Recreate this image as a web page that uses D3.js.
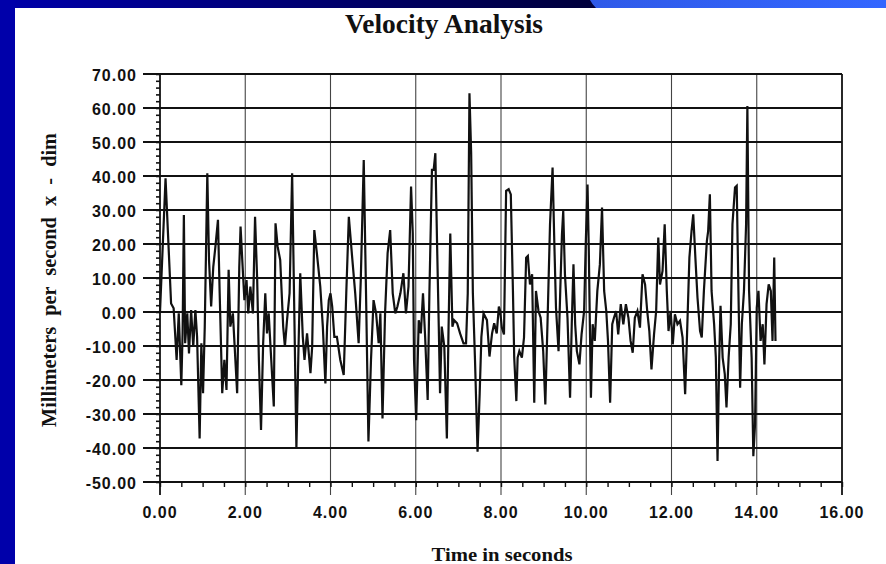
<!DOCTYPE html>
<html>
<head>
<meta charset="utf-8">
<script src="https://cdnjs.cloudflare.com/ajax/libs/d3/7.8.5/d3.min.js"></script>
<style>
  body { margin: 0; background: #ffffff; }
  .tick-label { font-family: "Liberation Sans", Arial, sans-serif; font-weight: bold; font-size: 16px; letter-spacing: 1px; fill: #111; }
  .serif-title { font-family: "Liberation Serif", "Times New Roman", serif; font-weight: bold; fill: #111; }
</style>
</head>
<body>
<div id="chart"></div>
<script>
// values
var times = [
  0.00, 0.13, 0.26, 0.32, 0.39, 0.44, 0.50, 0.53, 0.56, 0.59, 0.64, 0.68, 0.73, 0.78, 0.83, 0.87, 0.93, 0.97, 1.01, 1.05,
  1.11, 1.15, 1.20, 1.25, 1.30, 1.36, 1.40, 1.46, 1.51, 1.56, 1.61, 1.65, 1.71, 1.81, 1.86, 1.89, 1.93, 1.98, 2.03, 2.07,
  2.12, 2.18, 2.23, 2.28, 2.32, 2.37, 2.42, 2.47, 2.51, 2.55, 2.61, 2.67, 2.71, 2.76, 2.82, 2.89, 2.93, 2.98, 3.04, 3.10,
  3.15, 3.20, 3.25, 3.29, 3.35, 3.39, 3.45, 3.53, 3.57, 3.62, 3.68, 3.76, 3.82, 3.88, 3.92, 3.96, 4.00, 4.04, 4.09, 4.15,
  4.23, 4.31, 4.37, 4.43, 4.50, 4.58, 4.66, 4.71, 4.78, 4.84, 4.89, 4.95, 5.01, 5.07, 5.13, 5.17, 5.22, 5.28, 5.34, 5.40,
  5.46, 5.52, 5.57, 5.64, 5.71, 5.77, 5.83, 5.89, 5.93, 5.96, 6.01, 6.07, 6.12, 6.17, 6.22, 6.28, 6.32, 6.38, 6.42, 6.46,
  6.50, 6.54, 6.57, 6.61, 6.67, 6.73, 6.77, 6.81, 6.86, 6.90, 6.97, 7.04, 7.12, 7.18, 7.22, 7.26, 7.30, 7.34, 7.39, 7.45,
  7.50, 7.54, 7.59, 7.67, 7.73, 7.79, 7.84, 7.90, 7.95,
  7.98, 8.02, 8.07, 8.12, 8.18, 8.23, 8.28, 8.31, 8.36, 8.39, 8.43, 8.49, 8.54, 8.59, 8.63, 8.68, 8.73, 8.78, 8.82, 8.88,
  8.93, 8.99, 9.04, 9.09, 9.15, 9.21, 9.25, 9.29, 9.35, 9.39, 9.43, 9.46, 9.50, 9.56, 9.62, 9.66, 9.70, 9.74, 9.78, 9.84,
  9.89, 9.95, 9.99, 10.03, 10.06, 10.11, 10.15, 10.20, 10.26, 10.32, 10.37, 10.42, 10.47, 10.51, 10.56, 10.61, 10.65, 10.70, 10.75, 10.81,
  10.87, 10.93, 10.99, 11.04, 11.09, 11.14, 11.20, 11.26, 11.32, 11.38, 11.43, 11.48, 11.53, 11.59, 11.64, 11.69, 11.73, 11.79, 11.84, 11.89,
  11.93, 11.98, 12.03, 12.08, 12.14, 12.20, 12.26, 12.32, 12.36, 12.42, 12.47, 12.51, 12.56, 12.61, 12.67, 12.71, 12.76, 12.83, 12.86, 12.90,
  12.94, 13.00, 13.04, 13.08, 13.12, 13.15, 13.20, 13.25, 13.29, 13.34, 13.39, 13.43, 13.49, 13.53, 13.57, 13.61, 13.65, 13.70, 13.75, 13.78,
  13.82, 13.88, 13.92, 13.96, 14.00, 14.04, 14.09, 14.14, 14.18, 14.23, 14.28, 14.33, 14.37, 14.41, 14.44
];
var velocities = [
  0.0, 39.3, 2.5, 1.1, -14.1, -0.4, -21.5, -6.3, 28.5, -9.2, -0.4, -12.2, 0.6, -10.2, 0.6, -7.3, -37.2, -9.2, -23.9, -4.3,
  40.8, 15.3, 1.6, 13.3, 19.2, 27.1, 5.5, -23.9, -14.1, -22.9, 12.4, -4.3, -0.4, -23.9, 13.3, 25.1, 15.3, 3.5, 9.4, -0.4,
  7.5, -0.4, 28.0, 9.4, -14.1, -34.7, -9.2, 5.5, -6.3, -0.4, -14.1, -27.8, 26.1, 19.2, 15.3, -4.3, -10.2, -2.4, 5.5, 40.8,
  0.6, -40.1, -10.2, 11.4, -7.3, -14.1, -6.3, -18.0, -10.2, 24.1, 17.3, 7.5, -4.3, -21.0, -4.3, 3.5, 5.5, 1.6, -7.3, -7.3,
  -14.1, -18.5, 5.5, 28.0, 17.3, 5.5, -9.2, 9.4, 44.7, 0.6, -38.1, -14.1, 3.5, -0.4, -9.2, -0.4, -31.3, -0.4, 17.3, 24.1,
  5.5, -0.4, 1.6, 5.5, 11.4, -0.4, 7.5, 36.9, 23.1, -14.1, -31.8, -2.4, -6.3, 5.5, -7.3, -25.9, 5.5, 41.8, 41.8, 46.7,
  20.2, -4.3, -23.9, -4.3, -10.2, -37.2, -4.3, 23.1, -4.3, -2.4, -3.3, -6.3, -9.2, -9.2, 5.5, 64.3, 46.7, 5.5, -14.1, -41.1,
  -23.9, -7.3, -0.4, -2.4, -13.1, -6.3, -3.3, -6.3, 1.6,
  0.3, -4.6, -6.6, 35.6, 36.1, 34.6, 6.2, -13.4, -26.2, -13.4, -11.5, -13.4, -7.5, 16.0, 16.5, 8.1, 11.1, -26.7, 6.2, 0.3,
  -1.7, -11.5, -27.2, -3.6, 25.8, 42.5, 20.9, 1.3, -11.5, 6.2, 22.8, 29.7, 11.1, -1.7, -25.2, -3.6, 14.0, -3.6, -11.5, -15.4,
  -6.6, 0.3, 20.9, 37.5, 17.9, -25.2, -3.6, -8.5, 6.2, 14.0, 30.7, 6.2, 0.3, -8.5, -26.7, -3.6, -1.7, 0.3, -6.6, 2.3,
  -3.6, 2.3, -1.7, -8.5, -12.0, -1.7, 0.3, -4.6, 11.1, 8.1, 0.3, -5.6, -16.9, -6.6, 0.3, 21.9, 8.1, 12.1, 25.8, 6.2,
  -5.6, 0.3, -9.5, -0.7, -3.6, -2.6, -7.5, -24.2, -8.5, 16.0, 23.8, 28.7, 16.0, 4.2, -5.6, -7.5, 6.2, 20.9, 23.8, 34.6,
  6.2, -3.6, -13.4, -43.8, -13.4, 1.8, -13.4, -18.3, -28.1, -13.4, -3.6, 25.8, 36.6, 37.1, 6.2, -22.3, -3.6, 6.2, 25.8, 60.6,
  6.2, -13.4, -42.4, -33.0, 1.3, 6.2, -8.5, -3.6, -15.4, 2.3, 8.1, 6.2, -8.5, 16.0, -8.5
];
var xTicks = [0, 2, 4, 6, 8, 10, 12, 14, 16];
var yTicks = [70, 60, 50, 40, 30, 20, 10, 0, -10, -20, -30, -40, -50];

var svgWidth = 886;
var svgHeight = 564;

var svg = d3.select("#chart")
    .append("svg")
    .attr("width", svgWidth)
    .attr("height", svgHeight);

// slide frame (blue bars)
var defs = svg.append("defs");
var topGrad = defs.append("linearGradient").attr("id", "topGrad");
topGrad.append("stop").attr("offset", "0%").attr("stop-color", "#0000aa");
topGrad.append("stop").attr("offset", "100%").attr("stop-color", "#00003a");
var rightGrad = defs.append("linearGradient").attr("id", "rightGrad");
rightGrad.append("stop").attr("offset", "0%").attr("stop-color", "#2f5ae8");
rightGrad.append("stop").attr("offset", "100%").attr("stop-color", "#3366ff");

svg.append("rect").attr("x", 0).attr("y", 0).attr("width", svgWidth).attr("height", svgHeight).attr("fill", "#ffffff");
svg.append("rect").attr("x", 0).attr("y", 0).attr("width", 600).attr("height", 8).attr("fill", "url(#topGrad)");
svg.append("path")
    .attr("d", "M590,0 L886,0 L886,8 L596,8 Q592,4 590,0 Z")
    .attr("fill", "url(#rightGrad)");
svg.append("rect").attr("x", 0).attr("y", 0).attr("width", 15).attr("height", svgHeight).attr("fill", "#0000aa");

// scales
var xScale = d3.scaleLinear().domain([0, 16]).range([160, 842]);
var yScale = d3.scaleLinear().domain([-50, 70]).range([482, 74]);

var chartGroup = svg.append("g");

// vertical grid lines (thin)
chartGroup.selectAll(".vgrid")
    .data(xTicks)
    .enter()
    .append("line")
    .attr("x1", d => xScale(d))
    .attr("x2", d => xScale(d))
    .attr("y1", yScale(70))
    .attr("y2", yScale(-50) + 13)
    .attr("stroke", d => (d === 0 || d === 16) ? "#111" : "#444")
    .attr("stroke-width", d => (d === 0 || d === 16) ? 1.8 : 1.1);

// horizontal grid lines (thick)
chartGroup.selectAll(".hgrid")
    .data(yTicks)
    .enter()
    .append("line")
    .attr("x1", xScale(0) - 17)
    .attr("x2", xScale(16))
    .attr("y1", d => yScale(d))
    .attr("y2", d => yScale(d))
    .attr("stroke", "#111")
    .attr("stroke-width", 2);

// minor ticks on y axis
var leftAxis = d3.axisLeft(yScale).ticks(60).tickSize(4).tickFormat("");
chartGroup.append("g")
    .attr("transform", `translate(${xScale(0)}, 0)`)
    .call(leftAxis)
    .call(g => g.select(".domain").remove())
    .call(g => g.selectAll("line").attr("stroke", "#111").attr("stroke-width", 1.6));

// minor ticks on x axis
var bottomAxis = d3.axisBottom(xScale).ticks(40).tickSize(5).tickFormat("");
chartGroup.append("g")
    .attr("transform", `translate(0, ${yScale(-50)})`)
    .call(bottomAxis)
    .call(g => g.select(".domain").remove())
    .call(g => g.selectAll("line").attr("stroke", "#111").attr("stroke-width", 1.4));

// tick labels
chartGroup.selectAll(".xlabel")
    .data(xTicks)
    .enter()
    .append("text")
    .attr("class", "tick-label")
    .attr("x", d => xScale(d))
    .attr("y", 518)
    .attr("text-anchor", "middle")
    .text(d => d.toFixed(2));

chartGroup.selectAll(".ylabel")
    .data(yTicks)
    .enter()
    .append("text")
    .attr("class", "tick-label")
    .attr("x", 137)
    .attr("y", d => yScale(d) + 7)
    .attr("text-anchor", "end")
    .text(d => d.toFixed(2));

// the velocity trace
var series = times.map((t, i) => ({ t: t, v: velocities[i] }));
var line = d3.line()
    .x(d => xScale(d.t))
    .y(d => yScale(d.v));

chartGroup.append("path")
    .datum(series)
    .attr("d", line)
    .attr("fill", "none")
    .attr("stroke", "#111")
    .attr("stroke-width", 2.2)
    .attr("stroke-linejoin", "miter");

// titles
svg.append("text")
    .attr("class", "serif-title")
    .attr("x", 444)
    .attr("y", 33)
    .attr("text-anchor", "middle")
    .attr("font-size", 27)
    .attr("textLength", 198)
    .attr("lengthAdjust", "spacingAndGlyphs")
    .text("Velocity Analysis");

svg.append("text")
    .attr("class", "serif-title")
    .attr("x", 502)
    .attr("y", 561)
    .attr("text-anchor", "middle")
    .attr("font-size", 19)
    .attr("textLength", 141)
    .attr("lengthAdjust", "spacingAndGlyphs")
    .text("Time in seconds");

svg.append("text")
    .attr("class", "serif-title")
    .attr("transform", "translate(56, 280) rotate(-90)")
    .attr("text-anchor", "middle")
    .attr("font-size", 20)
    .attr("word-spacing", 6)
    .attr("textLength", 294)
    .attr("lengthAdjust", "spacingAndGlyphs")
    .text("Millimeters per second x - dim");
</script>
</body>
</html>
